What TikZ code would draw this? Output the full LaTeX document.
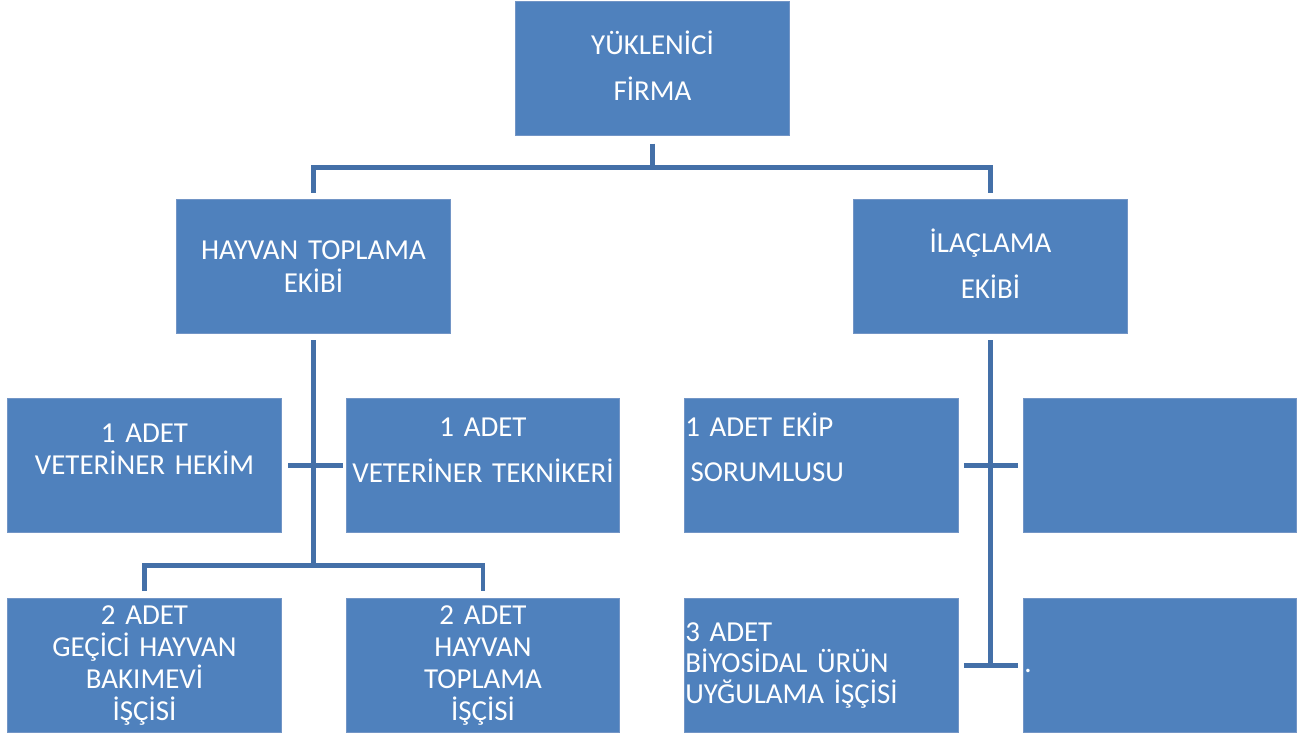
\documentclass[tikz,border=0pt]{standalone}
\usepackage{fontspec}
\setmainfont{Carlito}
\usepackage{tikz}
\usepackage{xcolor}

\definecolor{boxblue}{HTML}{4F81BD}
\definecolor{boxedge}{HTML}{7295C6}
\definecolor{linkblue}{HTML}{4470A8}

\tikzset{
  box/.style={rectangle, fill=boxblue, draw=boxedge, line width=0.6pt,
    minimum width=205pt, minimum height=100pt, inner sep=0pt},
  lbl/.style={text=white, font=\fontsize{21.7}{#1}\selectfont, align=center,
    text width=200pt, anchor=base, inner sep=0pt},
  lbll/.style={text=white, font=\fontsize{21.7}{#1}\selectfont, align=left,
    text width=200pt, anchor=base west, inner sep=0pt},
  conn/.style={draw=linkblue, line width=3.6pt}
}

\begin{document}
\begin{tikzpicture}[x=0.75pt, y=-0.75pt]

\useasboundingbox (0,0) rectangle (1311,736);

% kutular
\node[box, minimum width=206pt] (firma) at (652.5,68.5) {};
\node[box] (hayvan) at (313.5,266.5) {};
\node[box, minimum width=206pt] (ilac) at (990.5,266.5) {};

\node[box] (hekim) at (144.5,465.5) {};
\node[box] (teknik) at (483,465.5) {};
\node[box] (ekip) at (821.5,465.5) {};
\node[box] (bos1) at (1160,465.5) {};

\node[box, minimum height=101pt] (bakim) at (144.5,665.5) {};
\node[box, minimum height=101pt] (toplama) at (483,665.5) {};
\node[box, minimum height=101pt] (biyo) at (821.5,665.5) {};
\node[box, minimum height=101pt] (bos2) at (1160,665.5) {};

% yazilar
\node[lbl=34.5pt] (tfirma) at (652.5,54) {YÜKLENİCİ\\FİRMA};
\node[lbl=24.75pt] (thayvan) at (313.5,259) {HAYVAN TOPLAMA\\EKİBİ};
\node[lbl=34.5pt] (tilac) at (990.5,252) {İLAÇLAMA\\EKİBİ};

\node[lbl=24pt] (thekim) at (144.5,442) {1 ADET\\VETERİNER HEKİM};
\node[lbl=34.5pt] (tteknik) at (483,436) {1 ADET\\VETERİNER TEKNİKERİ};
\node[lbll=33.75pt] (tekip) at (685,436) {1 ADET EKİP\\\hspace*{4pt}SORUMLUSU};

\node[lbl=24pt] (tbakim) at (144.5,624) {2 ADET\\GEÇİCİ HAYVAN\\BAKIMEVİ\\İŞÇİSİ};
\node[lbl=24pt] (ttoplama) at (483,624) {2 ADET\\HAYVAN\\TOPLAMA\\İŞÇİSİ};
\node[lbll=23.25pt] (tbiyo) at (685,641) {3 ADET\\BİYOSİDAL ÜRÜN\\UYĞULAMA İŞÇİSİ};
\node[lbll=24pt] (tnokta) at (1024,672) {.};

% baglantilar
\draw[conn] ([yshift=-6pt]firma.south) -- ++(0,24) coordinate (k1);
\draw[conn] ([yshift=5pt]hayvan.north) |- (k1) -| ([yshift=5pt]ilac.north);

\draw[conn] ([yshift=-5pt]hayvan.south) -- ++(0,225) coordinate (k2);
\draw[conn] ([yshift=5pt]bakim.north) |- (k2) -| ([yshift=5pt]toplama.north);
\draw[conn] ([xshift=5pt]hekim.east) -- ([xshift=-2pt]teknik.west);

\draw[conn] ([yshift=-5pt]ilac.south) -- ++(0,324);
\draw[conn] ([xshift=4pt]ekip.east) -- ([xshift=-4pt]bos1.west);
\draw[conn] ([xshift=4pt]biyo.east) -- ([xshift=-4pt]bos2.west);

\end{tikzpicture}
\end{document}
